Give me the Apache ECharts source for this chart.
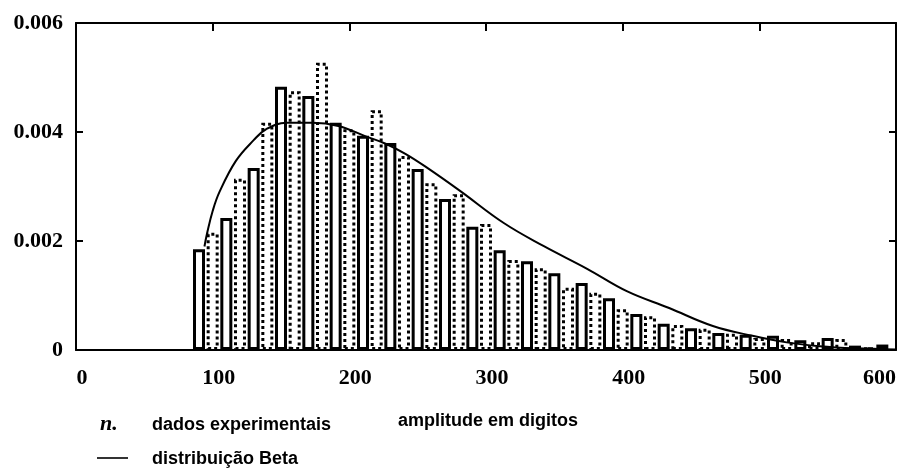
<!DOCTYPE html>
<html>
<head>
<meta charset="utf-8">
<script src="https://cdn.jsdelivr.net/npm/echarts@6/dist/echarts.min.js"></script>
<style>
  html, body { margin: 0; padding: 0; background: #fff; }
  #chart { width: 901px; height: 470px; }
</style>
</head>
<body>
<div id="chart"></div>
<script>
// Histogram of measured amplitudes: bin centres (digits) and relative frequency
const binCentres = [90, 100, 110, 120, 130, 140, 150, 160, 170, 180,
                    190, 200, 210, 220, 230, 240, 250, 260, 270, 280,
                    290, 300, 310, 320, 330, 340, 350, 360, 370, 380,
                    390, 400, 410, 420, 430, 440, 450, 460, 470, 480,
                    490, 500, 510, 520, 530, 540, 550, 560, 570, 580, 590];
const binFreq = [0.00185, 0.00215, 0.00242, 0.00314, 0.00334, 0.00417, 0.00483, 0.00475, 0.00466, 0.00527,
                 0.00417, 0.00405, 0.00393, 0.00440, 0.00380, 0.00356, 0.00332, 0.00306, 0.00277, 0.00286,
                 0.00226, 0.00231, 0.00183, 0.00165, 0.00163, 0.00150, 0.00141, 0.00114, 0.00123, 0.00105,
                 0.00095, 0.00075, 0.00066, 0.00062, 0.00048, 0.00046, 0.00040, 0.00039, 0.00031, 0.00030,
                 0.00028, 0.00022, 0.00026, 0.00020, 0.00018, 0.00014, 0.00022, 0.00020, 0.00008, 0.00005, 0.00010];

// Fitted Beta density
const betaX = [94, 96, 100, 105, 117, 130, 139, 154, 173, 192, 212, 227, 241, 256,
               281, 313, 342, 374, 403, 434, 466, 495, 520, 544, 570, 600];
const betaY = [0.00190, 0.00215, 0.00255, 0.00290, 0.00347, 0.00385, 0.00405, 0.00417, 0.00417, 0.00411,
               0.00392, 0.00378, 0.00360, 0.00336, 0.00292, 0.00233, 0.00191, 0.00149, 0.00108, 0.00077,
               0.00044, 0.00026, 0.00014, 0.00007, 0.00003, 0.00001];

const xTitle = 'amplitude em digitos';
const barsName = 'dados experimentais';
const curveName = 'distribuição Beta';

const chart = echarts.init(document.getElementById('chart'), null, { renderer: 'canvas' });

const ink = '#000';
const tickFont = { color: ink, fontFamily: 'Liberation Serif', fontWeight: 'bold', fontSize: 22 };
const textFont = { fill: ink, fontFamily: 'Liberation Sans', fontWeight: 'bold', fontSize: 18 };

const frameAxis = (extra) => Object.assign({
  type: 'value',
  splitLine: { show: false },
  axisLine: { show: true, onZero: false, lineStyle: { color: ink, width: 2 } }
}, extra);

chart.setOption({
  backgroundColor: '#fff',
  animation: false,
  grid: { left: 76, right: 5, top: 23, bottom: 120, containLabel: false },
  xAxis: [
    frameAxis({
      position: 'bottom', min: 0, max: 600, interval: 100,
      axisTick: { show: false },
      axisLabel: Object.assign({ margin: 17, padding: [0, 0, 0, 12], alignMaxLabel: 'right' }, tickFont)
    }),
    frameAxis({
      position: 'top', min: 0, max: 600, interval: 100,
      axisTick: { show: true, inside: true, length: 8, lineStyle: { color: ink, width: 2 } },
      axisLabel: { show: false }
    })
  ],
  yAxis: [
    frameAxis({
      position: 'left', min: 0, max: 0.006, interval: 0.002,
      axisTick: { show: true, inside: true, length: 7, lineStyle: { color: ink, width: 2 } },
      axisLabel: Object.assign({
        margin: 13,
        formatter: v => (v === 0 ? '0' : v.toFixed(3))
      }, tickFont)
    }),
    frameAxis({
      position: 'right', min: 0, max: 0.006, interval: 0.002,
      axisTick: { show: true, inside: true, length: 7, lineStyle: { color: ink, width: 2 } },
      axisLabel: { show: false }
    })
  ],
  series: [
    {
      name: barsName,
      type: 'bar',
      xAxisIndex: 0,
      yAxisIndex: 0,
      barWidth: 12,
      z: 2,
      data: binCentres.map((x, i) => ({
        value: [x, binFreq[i]],
        itemStyle: {
          color: '#fff',
          borderColor: ink,
          borderWidth: 3,
          borderType: i % 2 === 0 ? 'solid' : 'dotted'
        }
      }))
    },
    {
      name: curveName,
      type: 'line',
      xAxisIndex: 0,
      yAxisIndex: 0,
      smooth: 0.4,
      showSymbol: false,
      z: 3,
      lineStyle: { color: ink, width: 2 },
      data: betaX.map((x, i) => [x, betaY[i]])
    }
  ],
  graphic: [
    { type: 'text', left: 100, top: 413,
      style: { text: 'n.', fill: ink, fontFamily: 'Liberation Serif', fontStyle: 'italic', fontWeight: 'bold', fontSize: 22 } },
    { type: 'text', left: 152, top: 416, style: Object.assign({ text: barsName }, textFont) },
    { type: 'text', left: 398, top: 412, style: Object.assign({ text: xTitle }, textFont) },
    { type: 'line', shape: { x1: 97, y1: 458, x2: 128, y2: 458 },
      style: { stroke: '#333', lineWidth: 2 } },
    { type: 'text', left: 152, top: 450, style: Object.assign({ text: curveName }, textFont) }
  ]
});
</script>
</body>
</html>
